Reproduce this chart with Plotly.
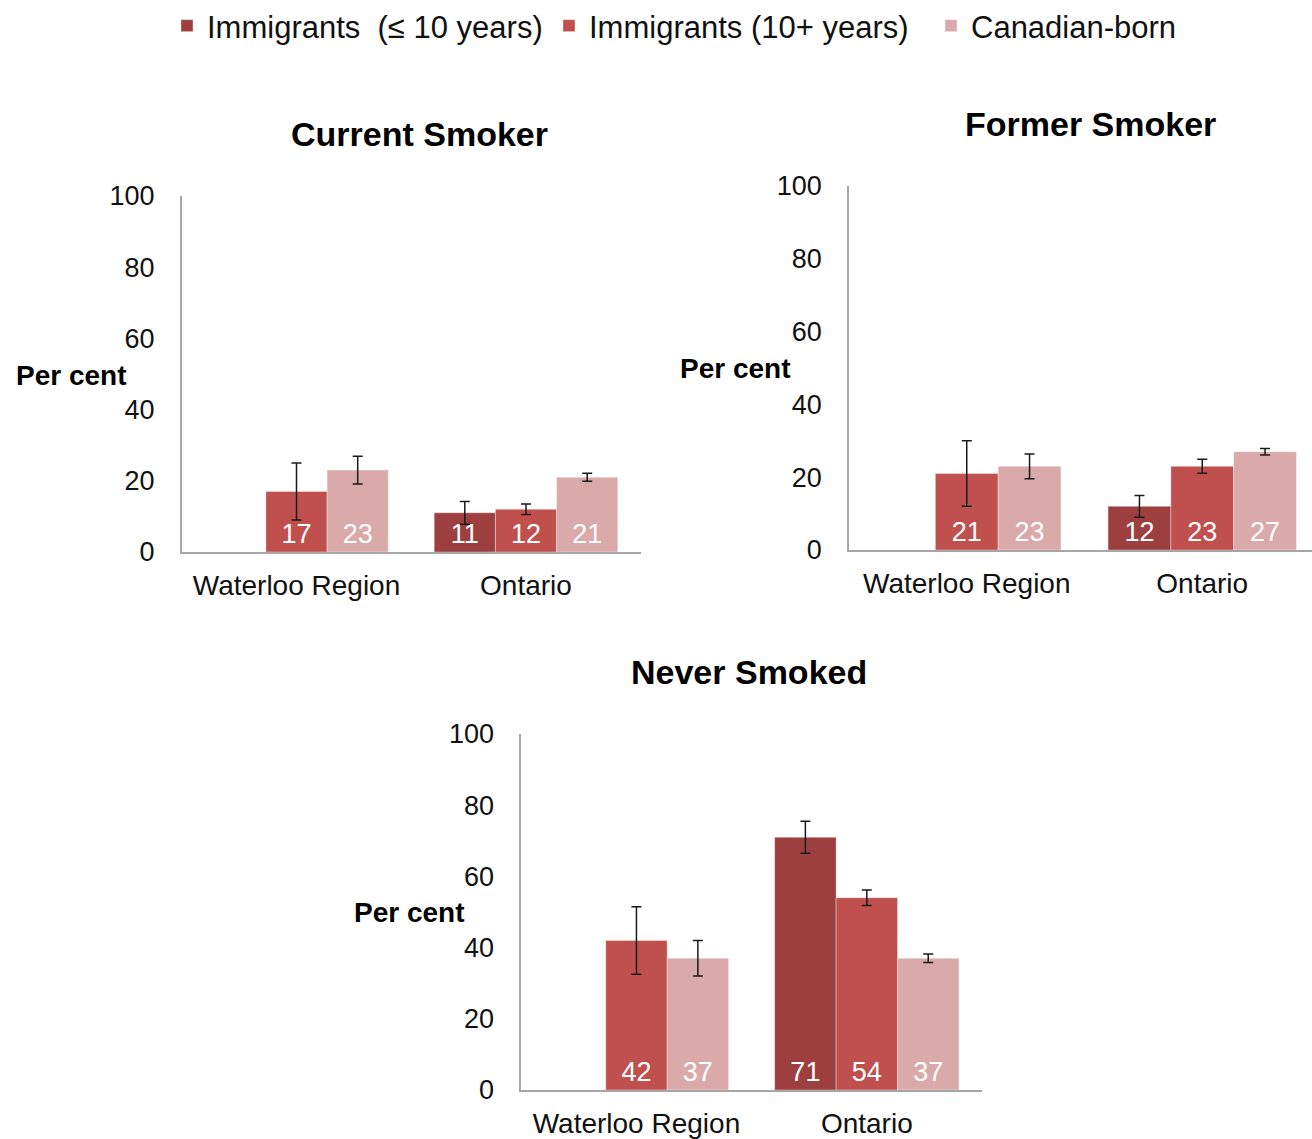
import plotly.graph_objects as go

W, H = 1312, 1139

categories = ["Waterloo Region", "Ontario"]
series_names = ["Immigrants  (\u2264 10 years)", "Immigrants (10+ years)", "Canadian-born"]
colors = ["#9C3F3E", "#C0504D", "#DAA9A9"]

panel_titles = ["Current Smoker", "Former Smoker", "Never Smoked"]

# values per panel: [<=10 yrs, 10+ yrs, Canadian-born], each over categories
current_recent = [None, 11]
current_long = [17, 12]
current_cdn = [23, 21]
current_err_recent = [None, 3.2]
current_err_long = [8, 1.5]
current_err_cdn = [3.9, 1.1]

former_recent = [None, 12]
former_long = [21, 23]
former_cdn = [23, 27]
former_err_recent = [None, 3]
former_err_long = [9, 1.9]
former_err_cdn = [3.4, 0.9]

never_recent = [None, 71]
never_long = [42, 54]
never_cdn = [37, 37]
never_err_recent = [None, 4.5]
never_err_long = [9.5, 2.2]
never_err_cdn = [5, 1.2]

y_ticks = [0, 20, 40, 60, 80, 100]

panels = [
    ([current_recent, current_long, current_cdn], [current_err_recent, current_err_long, current_err_cdn]),
    ([former_recent, former_long, former_cdn], [former_err_recent, former_err_long, former_err_cdn]),
    ([never_recent, never_long, never_cdn], [never_err_recent, never_err_long, never_err_cdn]),
]

FONT = "Liberation Sans, Arial, sans-serif"

fig = go.Figure()
for p, (vals, errs) in enumerate(panels):
    ax = "" if p == 0 else str(p + 1)
    for s in range(3):
        fig.add_trace(go.Bar(
            x=categories, y=vals[s], name=series_names[s],
            marker=dict(color=colors[s], line=dict(width=0.6, color="rgba(255,255,255,0.6)")),
            error_y=dict(type="data", array=errs[s], visible=True, color="#1a1a1a", thickness=1.5, width=5),
            texttemplate="%{y}", textposition="inside", insidetextanchor="start",
            textfont=dict(color="white", size=27, family=FONT),
            xaxis="x" + ax, yaxis="y" + ax,
            showlegend=(p == 0), legendgroup=str(s),
        ))

# pixel-derived domains
def xd(a, b):
    return [a / W, min(b / W, 1.0)]

def yd(bottom, top):
    return [1 - bottom / H, 1 - top / H]

axis_common_y = dict(range=[0, 100], tickvals=y_ticks, showgrid=False, zeroline=False,
                     showline=True, linecolor="#A6A6A6", linewidth=1.5, ticks="", automargin=False,
                     tickfont=dict(size=27, family=FONT, color="#111"), ticklabelstandoff=20)
axis_common_x = dict(showgrid=False, zeroline=False, showline=True, linecolor="#A6A6A6",
                     linewidth=1.5, ticks="", automargin=False,
                     tickfont=dict(size=28, family=FONT, color="#111"), ticklabelstandoff=8)

fig.update_layout(
    width=W, height=H, margin=dict(l=0, r=0, t=0, b=0, autoexpand=False),
    paper_bgcolor="white", plot_bgcolor="white",
    barmode="group", bargap=0.2, bargroupgap=0,
    font=dict(family=FONT, color="#111"),
    xaxis=dict(domain=xd(181.75, 640.75), anchor="y", range=[-0.5, 1.5], **axis_common_x),
    yaxis=dict(domain=yd(552, 196), anchor="x", **axis_common_y),
    xaxis2=dict(domain=xd(849, 1312), anchor="y2", range=[-0.5, 1.5 - 8 / 235.5], **axis_common_x),
    yaxis2=dict(domain=yd(550, 186), anchor="x2", **axis_common_y),
    xaxis3=dict(domain=xd(521.25, 982), anchor="y3", range=[-0.5, 1.5], **axis_common_x),
    yaxis3=dict(domain=yd(1090, 734), anchor="x3", **axis_common_y),
    legend=dict(orientation="h", x=(185 - 18) / W, xanchor="left", y=1 - 26 / H, yanchor="middle",
                font=dict(size=31, family=FONT, color="#111"), itemwidth=30, entrywidth=337,
                traceorder="normal", bgcolor="rgba(0,0,0,0)"),
)

title_pos = [(419, 134), (1090, 124), (749, 672)]
for t, (px, py) in zip(panel_titles, title_pos):
    fig.add_annotation(text="<b>" + t + "</b>", x=px / W, y=1 - py / H, xref="paper", yref="paper",
                       showarrow=False, xanchor="center", yanchor="middle",
                       font=dict(size=34, family=FONT, color="#000"))

per_pos = [(14, 375), (678, 369), (352, 912)]
for px, py in per_pos:
    fig.add_annotation(text="<b>Per cent</b>", x=px / W, y=1 - py / H, xref="paper", yref="paper",
                       showarrow=False, xanchor="left", yanchor="middle",
                       font=dict(size=28, family=FONT, color="#000"))

fig.write_html("out.html", config={"displayModeBar": False},
               post_script="document.body.style.margin='0';")
